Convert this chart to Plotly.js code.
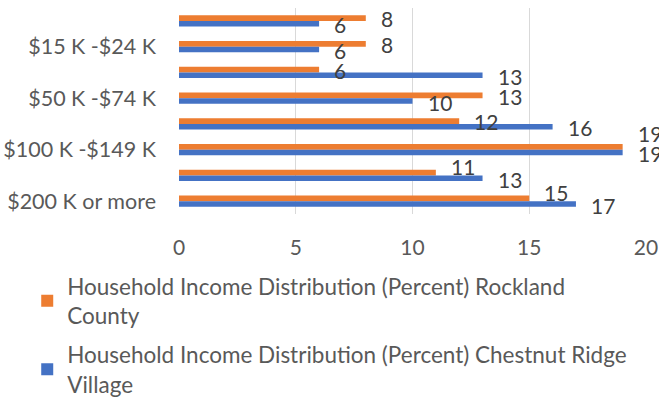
<!DOCTYPE html>
<html>
<head>
<meta charset="utf-8">
<script src="https://cdn.plot.ly/plotly-3.0.1.min.js"></script>
<style>html,body{margin:0;padding:0;background:#fff;}#chart{width:659px;height:401px;}</style>
</head>
<body>
<div id="chart"></div>
<script>
// Categories listed top to bottom as drawn
const categories = ["Less than $15 K", "$15 K -$24 K", "$25 K -$49 K", "$50 K -$74 K", "$75 K -$99 K", "$100 K -$149 K", "$150 K -$199 K", "$200 K or more"];
const shownTickLabels = ["$15 K -$24 K", "$50 K -$74 K", "$100 K -$149 K", "$200 K or more"];
const rocklandCounty = [8, 8, 6, 13, 12, 19, 11, 15];
const chestnutRidge = [6, 6, 13, 10, 16, 19, 13, 17];
const seriesNames = [
  "Household Income Distribution (Percent) Rockland<br>County",
  "Household Income Distribution (Percent) Chestnut Ridge<br>Village"
];
const xTicks = [0, 5, 10, 15, 20];

const FONT = "Lato, 'Noto Sans', sans-serif";
const labelFont = {family: FONT, size: 21, color: "#404040"};

const traces = [
  {type: "bar", orientation: "h", name: seriesNames[0], y: categories, x: rocklandCounty,
   marker: {color: "#ED7D31"}, legendgroup: "a", hoverinfo: "none"},
  {type: "bar", orientation: "h", name: seriesNames[1], y: categories, x: chestnutRidge,
   marker: {color: "#4472C4"}, legendgroup: "b", hoverinfo: "none"}
];

// Data labels placed next to bar ends (like Excel's outside-end labels),
// nudged apart vertically when the two labels of a group would crowd each other.
const annotations = [];
categories.forEach((cat, i) => {
  const o = rocklandCounty[i], b = chestnutRidge[i];
  const d = b - o;
  const extra = (d >= 0) ? Math.max(0, 14 - 3.5 * d) : 0;
  annotations.push({x: o, y: cat, xref: "x", yref: "y", text: String(o), showarrow: false,
    xanchor: "left", yanchor: "middle", xshift: 13, yshift: 2 + extra, font: labelFont});
  annotations.push({x: b, y: cat, xref: "x", yref: "y", text: String(b), showarrow: false,
    xanchor: "left", yanchor: "middle", xshift: 13, yshift: -4, font: labelFont});
});

const layout = {
  width: 659, height: 401,
  margin: {l: 179, r: 13, t: 8, b: 187, autoexpand: false},
  paper_bgcolor: "#fff", plot_bgcolor: "#fff",
  font: {family: FONT, size: 21, color: "#595959"},
  barmode: "group", bargap: 0.56, bargroupgap: 0,
  showlegend: true,
  annotations: annotations,
  legend: {orientation: "v", x: -0.325, xanchor: "left", y: -0.2476, yanchor: "top",
           font: {family: FONT, size: 22.5, color: "#595959"}, tracegroupgap: 7,
           bgcolor: "rgba(0,0,0,0)"},
  xaxis: {range: [0, 20], tickvals: xTicks, showgrid: true, gridcolor: "#d9d9d9", gridwidth: 1,
          zeroline: false, showline: false, ticks: "", ticklabelstandoff: 19,
          tickfont: {family: FONT, size: 21, color: "#595959"}, fixedrange: true, automargin: false},
  yaxis: {type: "category", categoryorder: "array", categoryarray: categories,
          range: [categories.length - 0.5, -0.5], autorange: false,
          tickvals: shownTickLabels, ticktext: shownTickLabels,
          showgrid: false, zeroline: false, showline: false, ticks: "", ticklabelstandoff: 22,
          tickfont: {family: FONT, size: 21.5, color: "#595959"}, fixedrange: true, automargin: false}
};

Plotly.newPlot("chart", traces, layout, {displayModeBar: false, staticPlot: true});
</script>
</body>
</html>
